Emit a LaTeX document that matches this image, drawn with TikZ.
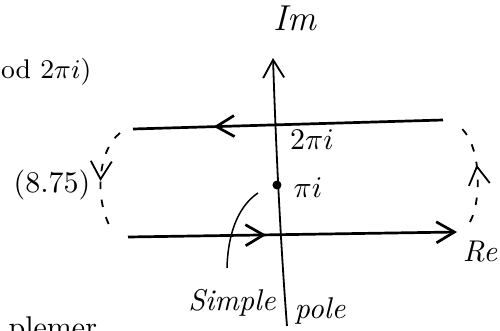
\documentclass[tikz,border=0pt]{standalone}
\usetikzlibrary{arrows.meta, decorations.markings}

\begin{document}
\begin{tikzpicture}[x=0.3333pt, y=-0.3333pt,
    hand/.style={font=\itshape},
    cont/.style={line width=0.9pt},
    dsh/.style={line width=0.6pt, dash pattern=on 2.5pt off 3.5pt},
    barb/.style={-{Straight Barb[length=6pt,width=7pt]}},
    midarr/.style={postaction={decorate}, decoration={markings,
        mark=at position #1 with {\arrow{Straight Barb[length=6pt,width=7pt]}}}}]
  \useasboundingbox (0,0) rectangle (500,331);
  % axes ends and contour corners
  \coordinate (ax0) at (287,326);
  \coordinate (ax1) at (273,58);
  \coordinate (tr) at (443,120);
  \coordinate (tl) at (133,129);
  \coordinate (bl) at (128,237);
  \coordinate (br) at (457,232);
  \node[circle, fill=black, inner sep=0pt, minimum size=3pt] (p) at (277,185) {};
  % labels
  \node[anchor=east, inner sep=0pt, font=\fontsize{9}{11}\selectfont] (mod) at (92,72) {od $2\pi i$)};
  \node (ref) at (52,185) {(8.75)};
  \node[anchor=base west] (plem) at (-2,338) {plemer};
  \node[hand, font=\large\itshape] (im) at (295,18) {Im};
  \node[hand] (re) at (480,252) {Re};
  \node (twopi) at (312,140) {$2\pi i$};
  \node (pi) at (308,188) {$\pi i$};
  \node[hand] (simple) at (232,303) {Simple};
  \node[hand] (pole) at (320,311) {pole};
  \coordinate (c0) at (227,268);
  \coordinate (c1) at (258,193);
  % imaginary axis
  \draw[barb, line width=0.6pt] (ax0) .. controls (281,250) and (276,150) .. (ax1);
  % contour
  \draw[cont, midarr=0.74] (tr) -- (tl);
  \draw[cont, barb, midarr=0.42] (bl) -- (br);
  \draw[dsh, midarr=0.5] (120,133) .. controls (98,150) and (93,200) .. (113,232);
  \draw[dsh, midarr=0.56] (470,222) .. controls (482,200) and (482,140) .. (457,125);
  % pointer to the pole
  \draw[line width=0.5pt] (c0) .. controls (228,230) and (240,205) .. (c1);
\end{tikzpicture}
\end{document}
